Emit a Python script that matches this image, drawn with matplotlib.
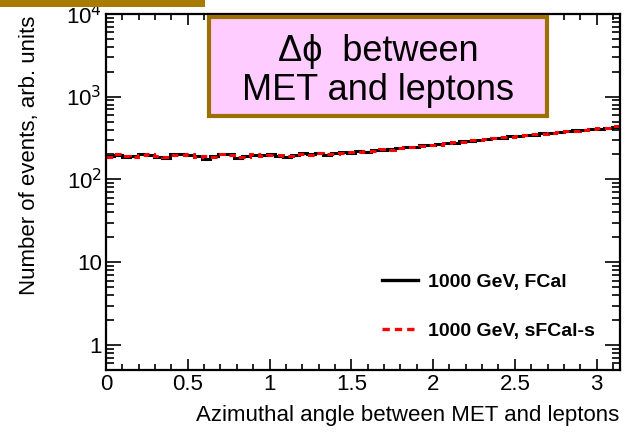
import numpy as np
import matplotlib.pyplot as plt
from matplotlib.patches import Rectangle, FancyBboxPatch
from matplotlib.ticker import FixedLocator, MultipleLocator, LogLocator, NullFormatter

plt.rcParams['font.family'] = ['Liberation Sans', 'DejaVu Sans']

# Delta-phi histogram, 64 bins over [0, pi]
n_bins = 64
edges = np.linspace(0, np.pi, n_bins + 1)

fcal = [190, 196, 188, 193, 200, 197, 186, 180, 205, 203, 196, 190, 178, 194, 200, 202,
        182, 190, 196, 195, 201, 194, 186, 198, 208, 200, 207, 199, 206, 212, 210, 220,
        214, 224, 229, 230, 240, 243, 246, 258, 262, 266, 276, 278, 290, 292, 301, 305,
        316, 318, 330, 333, 345, 348, 360, 364, 376, 380, 392, 396, 408, 410, 422, 428]
sfcal = [185, 200, 193, 186, 196, 202, 192, 188, 198, 196, 200, 184, 190, 188, 205, 196,
         188, 186, 200, 190, 196, 198, 190, 194, 204, 198, 210, 202, 204, 208, 214, 216,
         218, 220, 232, 226, 238, 246, 244, 255, 264, 262, 272, 282, 286, 296, 298, 310,
         312, 322, 326, 338, 340, 352, 356, 368, 372, 384, 388, 400, 404, 414, 418, 440]

labels = ['1000 GeV, FCal', '1000 GeV, sFCal-s']

fig = plt.figure(figsize=(6.25, 4.36), dpi=100)
ax = fig.add_axes([0.1696, 0.1514, 0.822, 0.817])

ax.stairs(fcal, edges, baseline=None, color='black', lw=2.2, label=labels[0])
ax.stairs(sfcal, edges, baseline=None, color='red', lw=2.2, ls=(0, (2.2, 1.5)),
          label=labels[1])

ax.set_yscale('log')
ax.set_xlim(0, np.pi)
ax.set_ylim(0.5, 1e4)

ax.yaxis.set_major_locator(FixedLocator([1, 10, 100, 1000, 10000]))
ax.set_yticklabels(['1', '10', r'10$^{2}$', r'10$^{3}$', r'10$^{4}$'])
ax.yaxis.set_minor_locator(LogLocator(base=10, subs=np.arange(2, 10)))
ax.yaxis.set_minor_formatter(NullFormatter())
ax.set_xticks([0, 0.5, 1, 1.5, 2, 2.5, 3])
ax.set_xticklabels(['0', '0.5', '1', '1.5', '2', '2.5', '3'])
ax.xaxis.set_minor_locator(MultipleLocator(0.1))

ax.tick_params(which='both', direction='in', top=True, right=True, width=1.2,
               labelsize=16, pad=3)
ax.tick_params(axis='y', which='major', length=11)
ax.tick_params(axis='y', which='minor', length=6)
ax.tick_params(axis='x', which='major', length=8)
ax.tick_params(axis='x', which='minor', length=4)
for s in ax.spines.values():
    s.set_linewidth(1.6)

ax.set_xlabel('Azimuthal angle between MET and leptons', fontsize=16, loc='right',
              labelpad=7)
ax.set_ylabel('Number of events, arb. units', fontsize=16, loc='top')
ax.yaxis.set_label_coords(-0.128, 0.994)

leg = ax.legend(loc='lower right', bbox_to_anchor=(0.985, 0.035), frameon=False,
                prop={'weight': 'bold', 'size': 14}, handlelength=1.85,
                labelspacing=1.6, handletextpad=0.5)
for h in leg.get_lines():
    h.set_linewidth(2.4)

# title box
fig.patches.append(FancyBboxPatch((0.335, 0.735), 0.54, 0.225, boxstyle='square,pad=0',
                                  transform=fig.transFigure, facecolor='#ffccff',
                                  edgecolor='#9b7000', lw=3, zorder=5))
fig.text(0.605, 0.838, '\u0394\u03d5  between\nMET and leptons', ha='center', va='center',
         fontsize=26, linespacing=1.15, zorder=6)

# gold band along the top
fig.patches.append(Rectangle((0, 0.984), 0.328, 0.016, transform=fig.transFigure,
                             facecolor='#a87c00', edgecolor='none', zorder=5))

fig.savefig('out.png', dpi=100)
